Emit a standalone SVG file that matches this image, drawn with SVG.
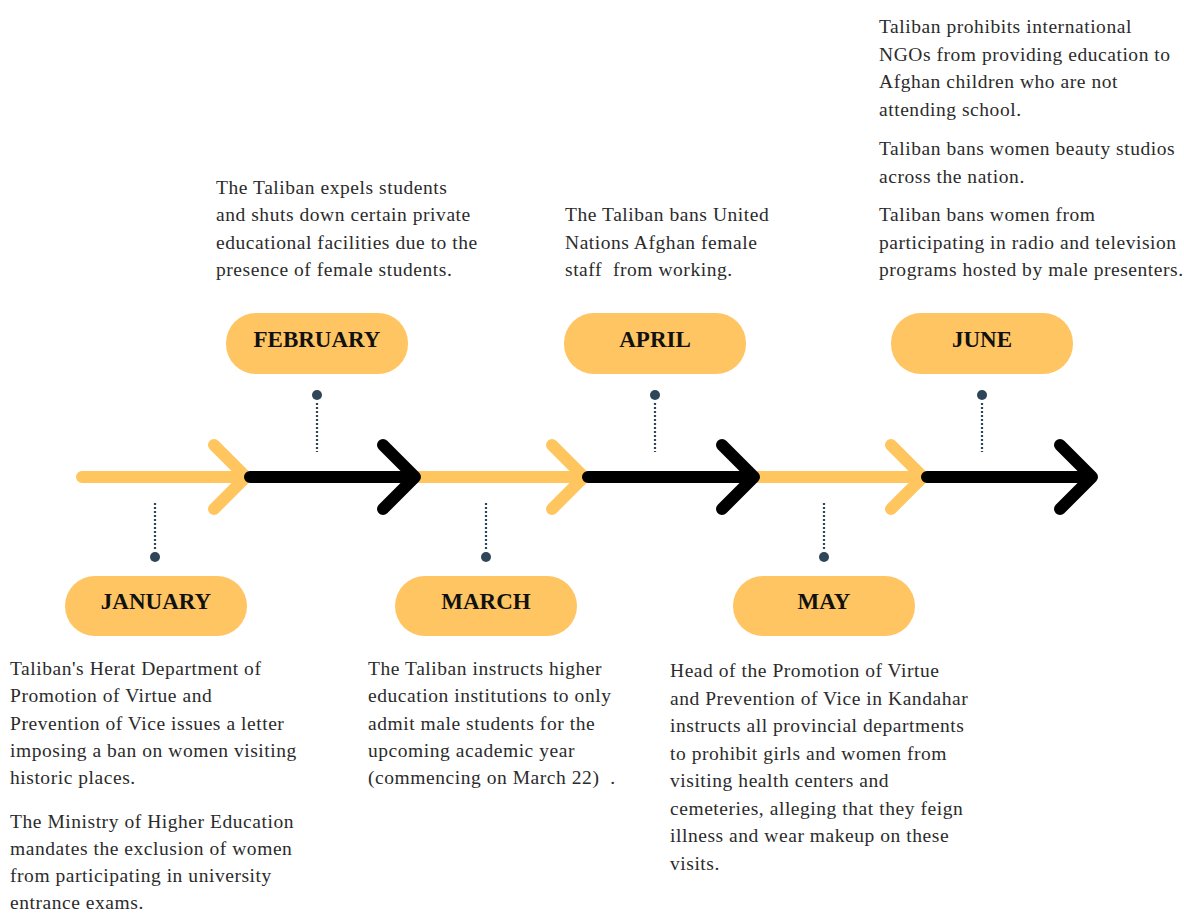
<svg xmlns="http://www.w3.org/2000/svg" width="1184" height="913" viewBox="0 0 1184 913">
<style>
.y{fill:none;stroke:#FFC55F;stroke-width:12;stroke-linecap:round;stroke-linejoin:round}
.k{fill:none;stroke:#000;stroke-width:12;stroke-linecap:round;stroke-linejoin:round}
.pill{fill:#FFC562}
.lbl{font-family:"Liberation Serif","Times New Roman",serif;font-weight:bold;font-size:23px;fill:#111;text-anchor:middle}
.txt{font-family:"Liberation Serif","Times New Roman",serif;font-size:19.5px;letter-spacing:0.55px;fill:#2b2b2b}
.dots{stroke:#2f4558;stroke-width:2.2;stroke-dasharray:2 2}
.dot{fill:#2f4558}
</style>
<rect width="1184" height="913" fill="#fff"/>
<g id="connectors">
<path class="y" d="M82 477H246M214 445L246 477L214 509"/>
<path class="y" d="M415 477H584M552 445L584 477L552 509"/>
<path class="y" d="M754 477H923M891 445L923 477L891 509"/>
<path class="k" d="M250 477H415M383 445L415 477L383 509"/>
<path class="k" d="M588 477H754M722 445L754 477L722 509"/>
<path class="k" d="M927 477H1092M1060 445L1092 477L1060 509"/>
</g>
<g id="january">
<line class="dots" x1="155" y1="503" x2="155" y2="550"/>
<circle class="dot" cx="155" cy="557" r="5"/>
<rect class="pill" x="65" y="576" width="182" height="60" rx="30"/>
<text class="lbl" x="156" y="609">JANUARY</text>
<text class="txt"><tspan x="10" y="675">Taliban's Herat Department of</tspan><tspan x="10" y="702.3">Promotion of Virtue and</tspan><tspan x="10" y="729.6">Prevention of Vice issues a letter</tspan><tspan x="10" y="756.9">imposing a ban on women visiting</tspan><tspan x="10" y="784.2">historic places.</tspan><tspan x="10" y="827.5">The Ministry of Higher Education</tspan><tspan x="10" y="854.8">mandates the exclusion of women</tspan><tspan x="10" y="882.1">from participating in university</tspan><tspan x="10" y="909.4">entrance exams.</tspan></text>
</g>
<g id="february">
<line class="dots" x1="317" y1="403" x2="317" y2="452"/>
<circle class="dot" cx="317" cy="395" r="5"/>
<rect class="pill" x="226" y="313" width="182" height="61" rx="30"/>
<text class="lbl" x="317" y="347">FEBRUARY</text>
<text class="txt"><tspan x="216" y="194">The Taliban expels students</tspan><tspan x="216" y="221.3">and shuts down certain private</tspan><tspan x="216" y="248.6">educational facilities due to the</tspan><tspan x="216" y="275.9">presence of female students.</tspan></text>
</g>
<g id="march">
<line class="dots" x1="486" y1="503" x2="486" y2="550"/>
<circle class="dot" cx="486" cy="557" r="5"/>
<rect class="pill" x="395" y="576" width="182" height="60" rx="30"/>
<text class="lbl" x="486" y="609">MARCH</text>
<text class="txt"><tspan x="368" y="675">The Taliban instructs higher</tspan><tspan x="368" y="702.3">education institutions to only</tspan><tspan x="368" y="729.6">admit male students for the</tspan><tspan x="368" y="756.9">upcoming academic year</tspan><tspan x="368" y="784.2">(commencing on March 22)&#160; .</tspan></text>
</g>
<g id="april">
<line class="dots" x1="655" y1="403" x2="655" y2="452"/>
<circle class="dot" cx="655" cy="395" r="5"/>
<rect class="pill" x="564" y="313" width="182" height="61" rx="30"/>
<text class="lbl" x="655" y="347">APRIL</text>
<text class="txt"><tspan x="565" y="221.3">The Taliban bans United</tspan><tspan x="565" y="248.6">Nations Afghan female</tspan><tspan x="565" y="275.9">staff&#160; from working.</tspan></text>
</g>
<g id="may">
<line class="dots" x1="824" y1="503" x2="824" y2="550"/>
<circle class="dot" cx="824" cy="557" r="5"/>
<rect class="pill" x="733" y="576" width="182" height="60" rx="30"/>
<text class="lbl" x="824" y="609">MAY</text>
<text class="txt"><tspan x="670" y="677">Head of the Promotion of Virtue</tspan><tspan x="670" y="704.5">and Prevention of Vice in Kandahar</tspan><tspan x="670" y="732">instructs all provincial departments</tspan><tspan x="670" y="759.5">to prohibit girls and women from</tspan><tspan x="670" y="787">visiting health centers and</tspan><tspan x="670" y="814.5">cemeteries, alleging that they feign</tspan><tspan x="670" y="842">illness and wear makeup on these</tspan><tspan x="670" y="869.5">visits.</tspan></text>
</g>
<g id="june">
<line class="dots" x1="982" y1="403" x2="982" y2="452"/>
<circle class="dot" cx="982" cy="395" r="5"/>
<rect class="pill" x="891" y="313" width="182" height="61" rx="30"/>
<text class="lbl" x="982" y="347">JUNE</text>
<text class="txt"><tspan x="879" y="33">Taliban prohibits international</tspan><tspan x="879" y="60.5">NGOs from providing education to</tspan><tspan x="879" y="88">Afghan children who are not</tspan><tspan x="879" y="115.5">attending school.</tspan><tspan x="879" y="155">Taliban bans women beauty studios</tspan><tspan x="879" y="182.5">across the nation.</tspan><tspan x="879" y="221.3">Taliban bans women from</tspan><tspan x="879" y="248.6">participating in radio and television</tspan><tspan x="879" y="275.9">programs hosted by male presenters.</tspan></text>
</g>
</svg>
